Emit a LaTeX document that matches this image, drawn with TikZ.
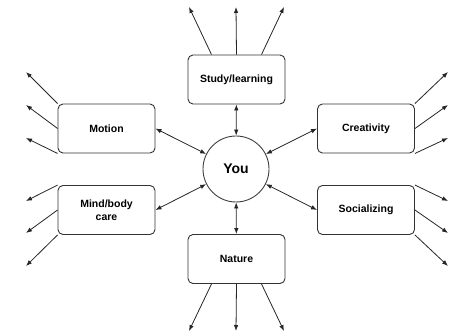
\documentclass[tikz,border=0pt]{standalone}
\usepackage{fontspec}
\setmainfont{Liberation Sans}
\usetikzlibrary{arrows.meta}

\begin{document}
\begin{tikzpicture}[x=1pt, y=-1pt,
    box/.style={draw=black!80, line width=0.9pt, rounded corners=5pt, fill=white,
        minimum width=97pt, minimum height=49pt, inner sep=0pt, align=center,
        font=\bfseries\fontsize{10.5}{12.5}\selectfont},
    link/.style={draw=black!85, line width=0.8pt, -{Latex[length=6pt,width=4.5pt]}},
    both/.style={link, {Latex[length=6pt,width=4.5pt]}-{Latex[length=6pt,width=4.5pt]}}]

    \useasboundingbox (0,0) rectangle (454,336);

    % === CENTRE ===
    \node[circle, draw=black!75, line width=0.9pt, minimum size=66pt, inner sep=0pt,
        font=\bfseries\fontsize{14}{16}\selectfont] (you) at (236,169) {You};

    % === AREAS ===
    \node[box] (study)  at (236.5,79.5)  {Study/learning};
    \node[box] (motion) at (106.5,128.5) {Motion};
    \node[box] (creat)  at (366,128.5)   {Creativity};
    \node[box] (mind)   at (106.5,210)   {Mind/body\\care};
    \node[box] (social) at (366,210)     {Socializing};
    \node[box] (nature) at (236.5,259)   {Nature};

    % === LINKS TO YOU ===
    \draw[both] (study)       -- (you);
    \draw[both] (motion.east) -- (you);
    \draw[both] (creat.west)  -- (you);
    \draw[both] (mind.east)   -- (you);
    \draw[both] (social.west) -- (you);
    \draw[both] (nature)      -- (you);

    % === FREE ENDS ===
    % Study/learning (top)
    \coordinate (st1) at (189,7);
    \coordinate (st2) at (236,7);
    \coordinate (st3) at (284,7);
    % Motion (left)
    \coordinate (mo1) at (26,72);
    \coordinate (mo2) at (26,105);
    \coordinate (mo3) at (26,138);
    % Creativity (right)
    \coordinate (cr1) at (448,72);
    \coordinate (cr2) at (448,105);
    \coordinate (cr3) at (448,138);
    % Mind/body care (left)
    \coordinate (mi1) at (26,201);
    \coordinate (mi2) at (26,233);
    \coordinate (mi3) at (26,266);
    % Socializing (right)
    \coordinate (so1) at (448,201);
    \coordinate (so2) at (448,233);
    \coordinate (so3) at (448,266);
    % Nature (bottom)
    \coordinate (na1) at (189,331);
    \coordinate (na2) at (236,331);
    \coordinate (na3) at (284,331);

    % === OUTGOING ARROWS ===
    \draw[link] ([xshift=-25pt]study.north) -- (st1);
    \draw[link] (study.north)               -- (st2);
    \draw[link] ([xshift=25pt]study.north)  -- (st3);

    \draw[link] (motion.north west) -- (mo1);
    \draw[link] (motion.west)       -- (mo2);
    \draw[link] (motion.south west) -- (mo3);

    \draw[link] (creat.north east) -- (cr1);
    \draw[link] (creat.east)       -- (cr2);
    \draw[link] (creat.south east) -- (cr3);

    \draw[link] (mind.north west) -- (mi1);
    \draw[link] (mind.west)       -- (mi2);
    \draw[link] (mind.south west) -- (mi3);

    \draw[link] (social.north east) -- (so1);
    \draw[link] (social.east)       -- (so2);
    \draw[link] (social.south east) -- (so3);

    \draw[link] ([xshift=-25pt]nature.south) -- (na1);
    \draw[link] (nature.south)               -- (na2);
    \draw[link] ([xshift=25pt]nature.south)  -- (na3);

\end{tikzpicture}
\end{document}
